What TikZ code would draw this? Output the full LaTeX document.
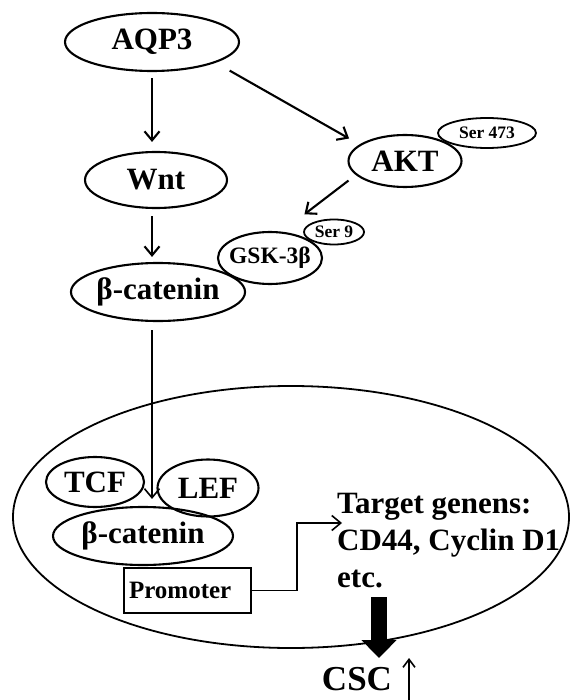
\documentclass[tikz,border=0pt]{standalone}
\usepackage{fontspec}
\setmainfont{Liberation Serif}
\usetikzlibrary{arrows.meta,shapes.geometric,positioning}
\tikzset{
  mol/.style={ellipse,draw,line width=2.1pt,inner sep=0pt,font=\fontsize{31}{36}\selectfont\bfseries},
  site/.style={mol,line width=1.8pt,font=\fontsize{17.5}{20}\selectfont\bfseries},
  trans/.style={-{Straight Barb[length=9pt,width=15pt]},line width=2.1pt},
  thinarr/.style={trans,line width=1.6pt},
  genes/.style={align=left,inner sep=0pt,font=\fontsize{31}{37}\selectfont\bfseries}
}

\begin{document}
\begin{tikzpicture}[x=1pt,y=-1pt]
  \useasboundingbox (0,0) rectangle (570,700);
  % nucleus
  \draw[line width=1.8pt] (291,517) ellipse [x radius=278,y radius=131];
  % cytoplasm
  \node[mol,minimum width=174pt,minimum height=58pt] (aqp) at (152,42) {AQP3};
  \node[mol,minimum width=142pt,minimum height=56pt] (wnt) at (156,180) {Wnt};
  \node[mol,minimum width=172pt,minimum height=58pt] (bcat) at (158,292) {β-catenin};
  \node[mol,minimum width=113pt,minimum height=52pt] (akt) at (405,161) {AKT};
  \node[site,minimum width=98pt,minimum height=30pt] (s473) at (487,133) {Ser 473};
  \node[mol,font=\fontsize{23.5}{28}\selectfont\bfseries,inner xsep=-5pt,
        minimum width=104pt,minimum height=52pt] (gsk) at (270,258) {GSK-3β};
  \node[site,minimum width=60pt,minimum height=25pt] (s9) at (334,232) {Ser 9};
  % nucleus content
  \node[mol,minimum width=98pt,minimum height=50pt] (tcf) at (95,482) {TCF};
  \node[mol,minimum width=101pt,minimum height=57pt] (lef) at (208,488) {LEF};
  \node[mol,minimum width=180pt,minimum height=58pt] (bcatn) at (143,536) {β-catenin};
  \node[draw,line width=1.8pt,inner sep=0pt,minimum width=127pt,minimum height=45pt,
        text width=117pt,align=left,
        font=\fontsize{25}{30}\selectfont\bfseries] (prom) at (187.5,590.5) {Promoter};
  \node[genes,anchor=base west] (tgt) at (337,587) {Target genens:\\CD44, Cyclin D1\\etc.};
  \node[inner sep=0pt,font=\fontsize{35}{42}\selectfont\bfseries] (csc) at (357,679) {CSC};
  \coordinate (genin) at (342,523);
  \coordinate (thk) at (379,597);
  \coordinate (up0) at (409,700);
  % arrows
  \draw[trans,shorten <=6pt,shorten >=9pt] (aqp.south) -- (aqp.south |- wnt.north);
  \draw[trans,shorten <=7pt,shorten >=5pt] (wnt.south -| aqp.south) -- (aqp.south |- bcat.north);
  \draw[trans,shorten <=16pt,shorten >=12pt] (aqp.-18) -- (akt.160);
  \draw[trans] ([shift={(-11,3)}]akt.200) -- ([shift={(-11,-7)}]s9.150);
  \draw[thinarr,shorten >=7pt] ([shift={(-6,8)}]bcat.south) -- ([xshift=-6pt]bcat.south |- bcatn.north);
  \draw[thinarr] (prom.east) -- ++(45,0) |- (genin);
  \draw[line width=16pt,-{Triangle[length=18pt,width=34pt]},shorten >=9pt] (thk) -- (thk |- csc.north);
  \draw[thinarr,-{Straight Barb[length=8pt,width=12pt]}] (up0) -- ++(0,-42);
\end{tikzpicture}
\end{document}
